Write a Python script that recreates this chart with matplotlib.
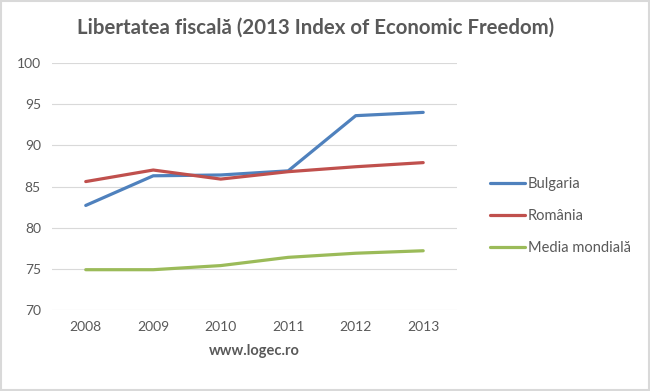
import matplotlib.pyplot as plt
from matplotlib.patches import Rectangle

ani = ["2008", "2009", "2010", "2011", "2012", "2013"]
bulgaria = [82.7, 86.3, 86.4, 86.9, 93.6, 94.0]
romania = [85.6, 87.0, 85.9, 86.8, 87.4, 87.9]
media = [74.9, 74.9, 75.4, 76.4, 76.9, 77.2]
etichete = ["Bulgaria", "România", "Media mondială"]
culori = ["#4F81BD", "#C0504D", "#9BBB59"]

plt.rcParams['font.family'] = ['Lato', 'DejaVu Sans']
gri = "#595959"

fig = plt.figure(figsize=(6.5, 3.91), dpi=100)
ax = fig.add_axes([0.08, 0.207, 0.623, 0.632])

x = list(range(len(ani)))
for serie, lab, c in zip([bulgaria, romania, media], etichete, culori):
    ax.plot(x, serie, color=c, linewidth=2.3, label=lab, solid_capstyle='round')

ax.set_xlim(-0.5, len(ani) - 0.5)
ax.set_ylim(70, 100)
ax.set_yticks(range(70, 101, 5))
ax.set_xticks(x)
ax.set_xticklabels(ani)
ax.grid(axis='y', color="#d9d9d9", linewidth=0.8)
ax.set_axisbelow(True)
for s in ax.spines.values():
    s.set_visible(False)
ax.tick_params(length=0, colors=gri, labelsize=10, pad=8)
ax.set_xlabel("www.logec.ro", fontsize=10.5, fontweight='bold', color=gri, labelpad=8)

fig.suptitle("Libertatea fiscală (2013 Index of Economic Freedom)", x=0.485, y=0.955,
             fontsize=14.7, fontweight='bold', color=gri)

leg = ax.legend(loc='center left', bbox_to_anchor=(1.05, 0.38), frameon=False,
                fontsize=10.5, labelcolor=gri, handlelength=2.4, handletextpad=0.15,
                labelspacing=1.25)

fig.patches.append(Rectangle((0.002, 0.003), 0.996, 0.994, transform=fig.transFigure,
                             fill=False, edgecolor="#d9d9d9", linewidth=1.5))

fig.savefig("out.png", dpi=100)
